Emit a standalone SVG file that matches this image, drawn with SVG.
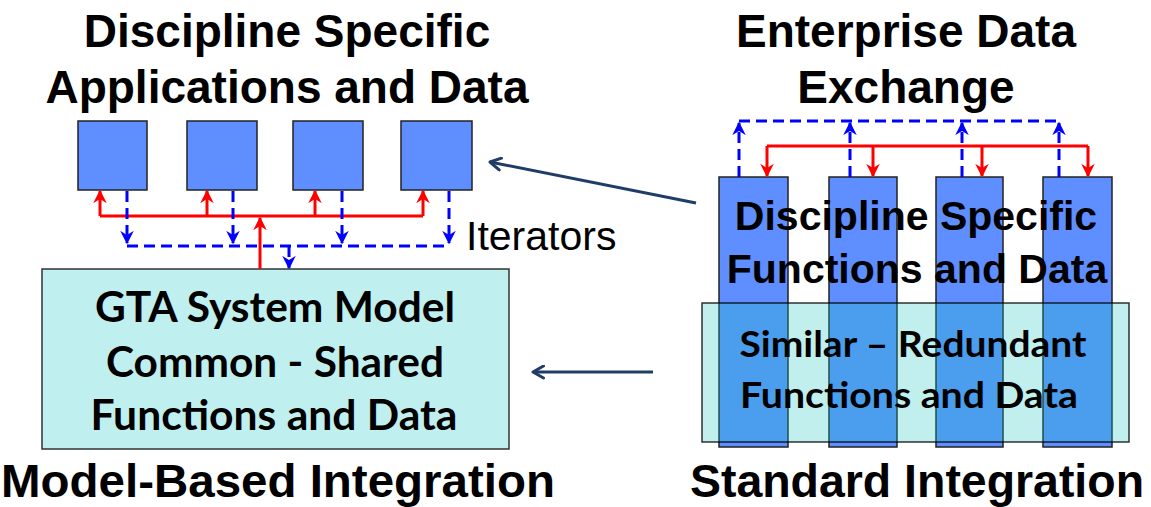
<svg xmlns="http://www.w3.org/2000/svg" width="1151" height="507" viewBox="0 0 1151 507">
<style>
.title{font-family:"Liberation Sans",Arial,sans-serif;font-weight:bold;font-size:46px;fill:#000;text-anchor:middle}
.cal{font-family:Lato,"Noto Sans",sans-serif;font-weight:bold;fill:#000;text-anchor:middle}
.app{fill:#5E8EFF;stroke:#222;stroke-width:1.5}
.red{stroke:#FF0000;stroke-width:3;fill:none}
.blue{stroke:#0000FF;stroke-width:3;fill:none;stroke-dasharray:11 6}
.nav{stroke:#1F3D66;stroke-width:3;fill:none}
</style>
<defs>
<marker id="ar" viewBox="0 0 10 10" refX="9" refY="5" markerWidth="4.5" markerHeight="4.5" orient="auto" markerUnits="strokeWidth">
<path d="M0,0 L10,5 L0,10 L3,5 z" fill="#FF0000"/>
</marker>
<marker id="ab" viewBox="0 0 10 10" refX="9" refY="5" markerWidth="4.5" markerHeight="4.5" orient="auto" markerUnits="strokeWidth">
<path d="M0,0 L10,5 L0,10 L3,5 z" fill="#0000FF"/>
</marker>
<marker id="an" viewBox="0 0 10 10" refX="8" refY="5" markerWidth="5" markerHeight="5" orient="auto" markerUnits="strokeWidth">
<path d="M1,1 L8,5 L1,9" fill="none" stroke="#1F3D66" stroke-width="2" stroke-linecap="round" stroke-linejoin="round"/>
</marker>
</defs>

<g id="title-left">
<text class="title" x="287" y="47">Discipline Specific</text>
<text class="title" x="287" y="103">Applications and Data</text>
</g>
<g id="title-right">
<text class="title" x="906" y="47">Enterprise Data</text>
<text class="title" x="906" y="103">Exchange</text>
</g>
<g id="label-bottom-left"><text class="title" x="278" y="497" textLength="554" lengthAdjust="spacingAndGlyphs">Model-Based Integration</text></g>
<g id="label-bottom-right"><text class="title" x="917" y="497" textLength="454" lengthAdjust="spacingAndGlyphs">Standard Integration</text></g>

<g id="app1"><rect class="app" x="78" y="121" width="69" height="69"/></g>
<g id="app2"><rect class="app" x="187" y="121" width="70" height="69"/></g>
<g id="app3"><rect class="app" x="293" y="121" width="70" height="69"/></g>
<g id="app4"><rect class="app" x="401" y="121" width="71" height="69"/></g>

<g id="gta-model">
<rect x="42" y="269" width="467" height="180" fill="#BFEFEE" stroke="#333" stroke-width="1.5"/>
<text class="cal" x="275" y="322" font-size="42" textLength="360" lengthAdjust="spacingAndGlyphs">GTA System Model</text>
<text class="cal" x="275" y="377" font-size="42" textLength="338" lengthAdjust="spacingAndGlyphs">Common - Shared</text>
<text class="cal" x="274" y="430" font-size="42" textLength="367" lengthAdjust="spacingAndGlyphs">Functions and Data</text>
</g>

<g id="discipline-columns">
<rect class="app" x="719" y="177" width="69" height="270"/>
<rect class="app" x="829" y="177" width="68" height="270"/>
<rect class="app" x="936" y="177" width="67" height="270"/>
<rect class="app" x="1043" y="177" width="69" height="270"/>
</g>
<g id="redundant-box">
<rect x="702" y="303" width="427" height="139" fill="#1BC6C2" fill-opacity="0.28" stroke="#000" stroke-opacity="0.8" stroke-width="1.5"/>
<text class="cal" x="913" y="357" font-size="36" textLength="347" lengthAdjust="spacingAndGlyphs">Similar – Redundant</text>
<text class="cal" x="909" y="408" font-size="36" textLength="338" lengthAdjust="spacingAndGlyphs">Functions and Data</text>
</g>
<g id="discipline-label">
<text class="title" x="916" y="230" style="font-size:41px">Discipline Specific</text>
<text class="title" x="917" y="283" style="font-size:41px">Functions and Data</text>
</g>

<g id="connectors">
<path class="red" d="M260,269 V218" marker-end="url(#ar)"/>
<path class="red" d="M100,216 H423"/>
<path class="red" d="M100,216 V191" marker-end="url(#ar)"/>
<path class="red" d="M207,216 V191" marker-end="url(#ar)"/>
<path class="red" d="M315,216 V191" marker-end="url(#ar)"/>
<path class="red" d="M423,216 V191" marker-end="url(#ar)"/>
<path class="blue" d="M127,191 V243" marker-end="url(#ab)"/>
<path class="blue" d="M233,191 V243" marker-end="url(#ab)"/>
<path class="blue" d="M342,191 V243" marker-end="url(#ab)"/>
<path class="blue" d="M449,191 V243" marker-end="url(#ab)"/>
<path class="blue" d="M127,246 H449"/>
<path class="blue" d="M289,246 V268" marker-end="url(#ab)"/>
<path class="blue" d="M739,177 V123" marker-end="url(#ab)"/>
<path class="blue" d="M850,177 V123" marker-end="url(#ab)"/>
<path class="blue" d="M962,177 V123" marker-end="url(#ab)"/>
<path class="blue" d="M1059,177 V123" marker-end="url(#ab)"/>
<path class="blue" d="M739,121 H1059"/>
<path class="red" d="M767,146 H1088"/>
<path class="red" d="M767,146 V176" marker-end="url(#ar)"/>
<path class="red" d="M873,146 V176" marker-end="url(#ar)"/>
<path class="red" d="M982,146 V176" marker-end="url(#ar)"/>
<path class="red" d="M1088,146 V176" marker-end="url(#ar)"/>
<path class="nav" d="M696,203 L490,162" marker-end="url(#an)"/>
<path class="nav" d="M653,372 L533,372" marker-end="url(#an)"/>
</g>
<g id="iterators-label">
<text x="466" y="250" font-family="Liberation Sans,Arial,sans-serif" font-size="41" fill="#000">Iterators</text>
</g>
</svg>
